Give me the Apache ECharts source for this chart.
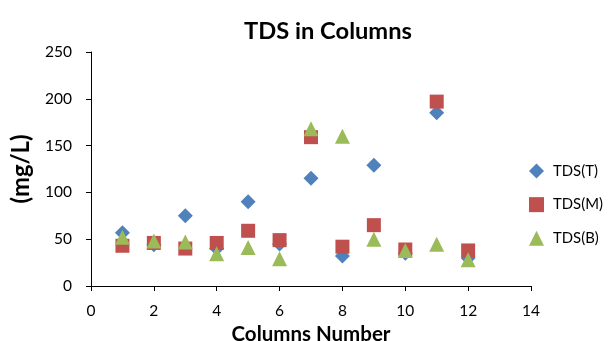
<!DOCTYPE html>
<html><head><meta charset="utf-8">
<script src="https://cdn.jsdelivr.net/npm/echarts@6/dist/echarts.min.js"></script>
<style>html,body{margin:0;padding:0;background:#fff}#c{width:608px;height:341px}</style>
</head><body><div id="c"></div>
<script>
const columns = [1,2,3,4,5,6,7,8,9,10,11,12];
const tdsT = [57,44,75,40,90,45,115,32,129,35,185,30];
const tdsM = [43,46,40,46,59,49,159,42,65,39,197,38];
const tdsB = [52,48,47,34.5,41,29,168,160,50,38,44.5,28];
const seriesNames = ['TDS(T)','TDS(M)','TDS(B)'];
const titleText = 'TDS in Columns';
const xName = 'Columns Number';
const yName = '(mg/L)';
const F = 'Lato';
const cv = document.createElement('canvas').getContext('2d');
function fit(text, weight, w){ cv.font = weight+' 100px '+F; return 100*w/cv.measureText(text).width; }
const titleFs = fit(titleText,'bold',168);
const xNameFs = fit(xName,'bold',159);
const yNameFs = fit(yName,'bold',69);
const tickFs = fit('250','normal',27);
const legFs = fit('TDS(M)','normal',50);
const chart = echarts.init(document.getElementById('c'));
const mk = (arr) => columns.map((c,i)=>[c, arr[i]]);
chart.setOption({
  animation:false,
  backgroundColor:'#fff',
  title:{text:titleText,left:323,top:26-titleFs/2,textAlign:'center',
    textStyle:{fontFamily:F,fontSize:titleFs,lineHeight:titleFs,fontWeight:'bold',color:'#000'}},
  grid:{left:91,right:77,top:52,bottom:55,outerBoundsMode:'none',containLabel:false},
  xAxis:{type:'value',min:0,max:14,interval:2,
    name:xName,nameLocation:'middle',nameGap:38,
    nameTextStyle:{fontFamily:F,fontSize:xNameFs,lineHeight:xNameFs,fontWeight:'bold',color:'#000',verticalAlign:'top'},
    axisLine:{show:true,lineStyle:{color:'#000'}},
    axisTick:{show:true,length:5,lineStyle:{color:'#000'}},
    splitLine:{show:false},
    axisLabel:{fontFamily:F,fontSize:tickFs,lineHeight:tickFs,color:'#000',margin:17}},
  yAxis:{type:'value',min:0,max:250,interval:50,
    name:yName,nameLocation:'middle',nameGap:58,nameRotate:90,
    nameTextStyle:{fontFamily:F,fontSize:yNameFs,lineHeight:yNameFs,fontWeight:'bold',color:'#000',verticalAlign:'bottom'},
    axisLine:{show:true,lineStyle:{color:'#000'}},
    axisTick:{show:true,length:5,lineStyle:{color:'#000'}},
    splitLine:{show:false},
    axisLabel:{fontFamily:F,fontSize:tickFs,color:'#000',margin:19}},
  legend:{orient:'vertical',left:529,top:171-legFs/2,itemGap:33.5-legFs,itemWidth:15,itemHeight:15,
    padding:0,
    textStyle:{fontFamily:F,fontSize:legFs,lineHeight:legFs,color:'#000',padding:[0,0,0,4]},
    data:seriesNames},
  series:[
    {name:seriesNames[0],type:'scatter',symbol:'diamond',symbolSize:15,
      itemStyle:{color:'#4F81BD',opacity:1},data:mk(tdsT)},
    {name:seriesNames[1],type:'scatter',symbol:'rect',symbolSize:14,
      itemStyle:{color:'#C0504D',opacity:1},data:mk(tdsM)},
    {name:seriesNames[2],type:'scatter',symbol:'triangle',symbolSize:15,
      itemStyle:{color:'#9BBB59',opacity:1},data:mk(tdsB)}
  ]
});
</script></body></html>
